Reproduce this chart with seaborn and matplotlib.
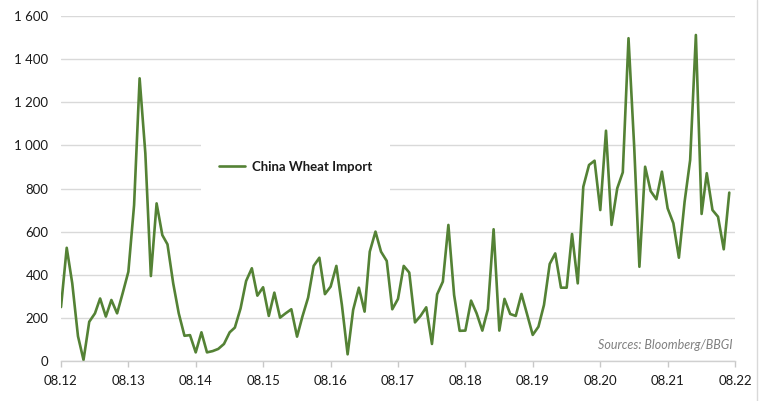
import matplotlib
matplotlib.use("Agg")
import matplotlib.pyplot as plt
import matplotlib.dates as mdates
from matplotlib.lines import Line2D
import seaborn as sns
import pandas as pd

# ---- data ----
start_month = "2012-08-01"
imports = [
    250, 525, 360, 115, 5, 182, 221, 290, 206, 283, 221, 314,
    414, 723, 1311, 963, 394, 731, 584, 541, 360, 221, 117, 120,
    40, 133, 40, 46, 56, 79, 133, 155, 244, 371, 430, 303,
    342, 209, 317, 201, 221, 240, 113, 206, 294, 441, 479, 310,
    345, 441, 260, 31, 237, 340, 229, 507, 600, 507, 464, 240,
    288, 441, 410, 179, 209, 249, 79, 309, 368, 631, 306, 140,
    141, 280, 221, 141, 240, 611, 141, 288, 218, 209, 311, 218,
    121, 159, 260, 450, 499, 340, 340, 589, 360, 808, 909, 929,
    700, 1068, 631, 801, 875, 1497, 990, 437, 901, 788, 750, 878,
    708, 639, 479, 739, 932, 1512, 682, 871, 700, 669, 518, 781,
]
series_name = "China Wheat Import"
y_ticks = [0, 200, 400, 600, 800, 1000, 1200, 1400, 1600]
y_tick_labels = ["0", "200", "400", "600", "800", "1 000", "1 200", "1 400", "1 600"]
x_tick_years = list(range(2012, 2023))
source_text = "Sources: Bloomberg/BBGI"

dates = pd.date_range(start_month, periods=len(imports), freq="MS")
df = pd.DataFrame({"date": dates, "value": imports, "series": series_name})

# ---- style ----
sns.set_theme(style="white")
plt.rcParams["font.family"] = ["Lato", "DejaVu Sans"]

fig = plt.figure(figsize=(7.64, 4.01), dpi=100)
ax = fig.add_axes([61 / 764, 1 - 361 / 401, (735 - 61) / 764, (361 - 16) / 401])

sns.lineplot(data=df, x="date", y="value", hue="series", palette=["#548235"],
             linewidth=1.9, ax=ax)

ax.set_ylim(0, 1600)
ax.set_xlim(pd.Timestamp("2012-08-01"), pd.Timestamp("2022-08-01"))
ax.set_yticks(y_ticks)
ax.set_yticklabels(y_tick_labels)
ax.set_xticks([pd.Timestamp(f"{y}-08-01") for y in x_tick_years])
ax.xaxis.set_major_formatter(mdates.DateFormatter("%m.%y"))

ax.set_xlabel("")
ax.set_ylabel("")
ax.grid(axis="y", color="#d9d9d9", linewidth=1.0)
ax.set_axisbelow(True)

for s in ["top", "right", "left"]:
    ax.spines[s].set_visible(False)
ax.spines["bottom"].set_color("#d0d0d0")
ax.spines["bottom"].set_linewidth(1.0)

ax.tick_params(axis="y", length=0, pad=9, labelsize=9.5, labelcolor="#1a1a1a")
ax.tick_params(axis="x", length=4, width=1, color="#c8c8c8", pad=6,
               labelsize=9.5, labelcolor="#1a1a1a", bottom=True)

leg = ax.legend(loc="center", bbox_to_anchor=(0.348, 0.563), frameon=True,
                facecolor="white", edgecolor="none", framealpha=1,
                borderpad=1.35, handlelength=2.0, handletextpad=0.5,
                prop={"weight": "bold", "size": 9.5})
leg.get_frame().set_boxstyle("square", pad=0)
for t in leg.get_texts():
    t.set_color("#1a1a1a")

ax.text(0.997, 0.045, source_text, transform=ax.transAxes, ha="right", va="center",
        fontsize=9, style="italic", color="#808080")

fig.add_artist(Line2D([757 / 764, 757 / 764], [0, 1], color="#d9d9d9", linewidth=1.0,
                      transform=fig.transFigure))

fig.savefig("out.png", dpi=100, facecolor="white")
